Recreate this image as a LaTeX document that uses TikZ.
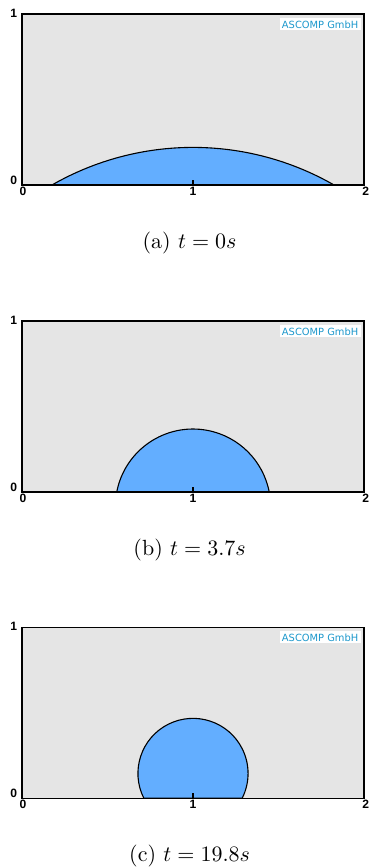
\documentclass[tikz,border=0pt]{standalone}
\usepackage{fontspec}
\usetikzlibrary{positioning}
\newfontfamily\tickfont{Liberation Sans}
\newfontfamily\logofont{DejaVu Sans}
\definecolor{domaingray}{RGB}{229,229,229}
\definecolor{dropblue}{RGB}{99,174,255}
\definecolor{logocyan}{RGB}{28,152,204}

\begin{document}
\begin{tikzpicture}[x=2.736cm, y=2.736cm,
  frame/.style={draw=black, line width=0.5pt},
  drop/.style={fill=dropblue, draw=black, line width=0.5pt},
  ticklabel/.style={font=\tickfont\bfseries\fontsize{5.5}{6}\selectfont, inner sep=0.5pt},
  logo/.style={fill=white, text=logocyan, font=\logofont\fontsize{4.5}{5}\selectfont, inner sep=1pt},
  caption/.style={font=\normalsize}]
\useasboundingbox (-0.1287,-3.988) rectangle (2.0468,1.0819);
% one panel per time step: offset / tag / contact x / arc angles / radius / caption
\foreach \yo/\nm/\cx/\sa/\ea/\r/\cap in {
    0/a/0.175/119.86/60.14/1.657/{(a) $t=0s$},
    -1.795/b/0.554/169.1/10.9/0.454/{(b) $t=3.7s$},
    -3.585/c/0.712/206.6/-26.6/0.322/{(c) $t=19.8s$}} {
  \begin{scope}[shift={(0,\yo)}]
    \fill[domaingray] (0,0) rectangle (2,1);
    \draw[drop] (\cx,0) arc[start angle=\sa, end angle=\ea, radius=\r] -- cycle;
    \draw[frame] (0,0) rectangle (2,1);
    \draw[line width=0.5pt] (1,0) -- (1,0.03);
    \node[ticklabel, anchor=north] (x0-\nm) at (0.005,-0.005) {0};
    \node[ticklabel, anchor=north] (x1-\nm) at (1,-0.005) {1};
    \node[ticklabel, anchor=north] (x2-\nm) at (2.01,-0.005) {2};
    \node[ticklabel, anchor=east] (y0-\nm) at (-0.02,0.03) {0};
    \node[ticklabel, anchor=east] (y1-\nm) at (-0.02,1.005) {1};
    \node[logo, anchor=north east] (logo-\nm) at (1.982,0.977) {ASCOMP GmbH};
    \node[caption] (cap-\nm) at (0.98,-0.34) {\cap};
  \end{scope}
}
\end{tikzpicture}
\end{document}
